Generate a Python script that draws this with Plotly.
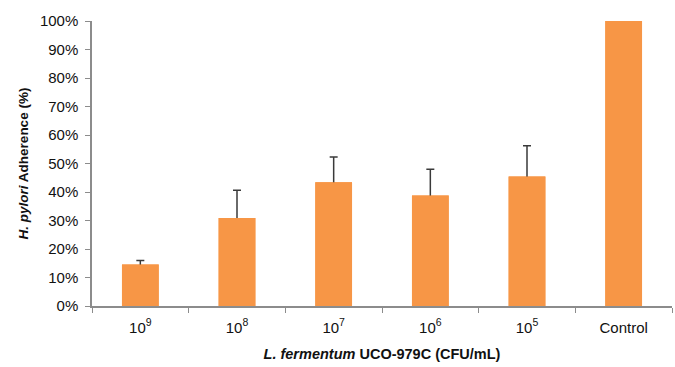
import plotly.graph_objects as go

categories = ["10<sup>9</sup>", "10<sup>8</sup>", "10<sup>7</sup>", "10<sup>6</sup>", "10<sup>5</sup>", "Control"]
adherence = [14.6, 30.9, 43.4, 38.8, 45.4, 100.0]
errors = [1.4, 9.7, 8.9, 9.2, 10.8, 0.2]
y_ticks = [0, 10, 20, 30, 40, 50, 60, 70, 80, 90, 100]
y_tick_labels = [f"{v}%" for v in y_ticks]

font_family = "Liberation Sans, Arial, Helvetica, sans-serif"
axis_color = "#8c8c8c"
bar_color = "#f79646"

fig = go.Figure()
# bars with error bars (symmetric; lower half hidden by overlay bar)
fig.add_trace(go.Bar(
    x=categories,
    y=adherence,
    marker=dict(color=bar_color, line=dict(width=0)),
    error_y=dict(type="data", symmetric=True, array=errors,
                 color="#3a3a3a", thickness=1.5, width=4),
    cliponaxis=False,
))
# overlay bars to hide the lower half of the error bars
fig.add_trace(go.Bar(
    x=categories,
    y=adherence,
    marker=dict(color=bar_color, line=dict(width=0)),
    hoverinfo="skip",
))

fig.update_layout(
    width=675, height=367,
    margin=dict(l=92, r=3, t=21, b=61),
    plot_bgcolor="white", paper_bgcolor="white",
    barmode="overlay",
    bargap=0.62,
    showlegend=False,
    font=dict(family=font_family, size=15, color="#111111"),
)

fig.update_xaxes(
    type="category",
    automargin=False,
    showline=True, linecolor=axis_color, linewidth=1.5,
    ticks="outside", tickson="boundaries", ticklen=5, tickcolor=axis_color,
    tickfont=dict(size=15),
    ticklabelstandoff=7,
    title=dict(text="<b><i>L. fermentum</i> UCO-979C (CFU/mL)</b>", font=dict(size=14.5), standoff=14),
    showgrid=False,
)
fig.update_yaxes(
    range=[0, 100],
    automargin=False,
    tickmode="array",
    tickvals=y_ticks,
    ticktext=y_tick_labels,
    showline=True, linecolor=axis_color, linewidth=1.5,
    ticks="outside", ticklen=5, tickcolor=axis_color,
    tickfont=dict(size=15),
    ticklabelstandoff=4,
    showgrid=False, zeroline=False,
    title=dict(text="<b><i>H. pylori</i> Adherence (%)</b>", font=dict(size=13.5), standoff=8),
)

fig.write_html(
    "out.html",
    config={"displayModeBar": False},
    post_script="document.body.style.margin='0';document.body.style.overflow='hidden';",
)
